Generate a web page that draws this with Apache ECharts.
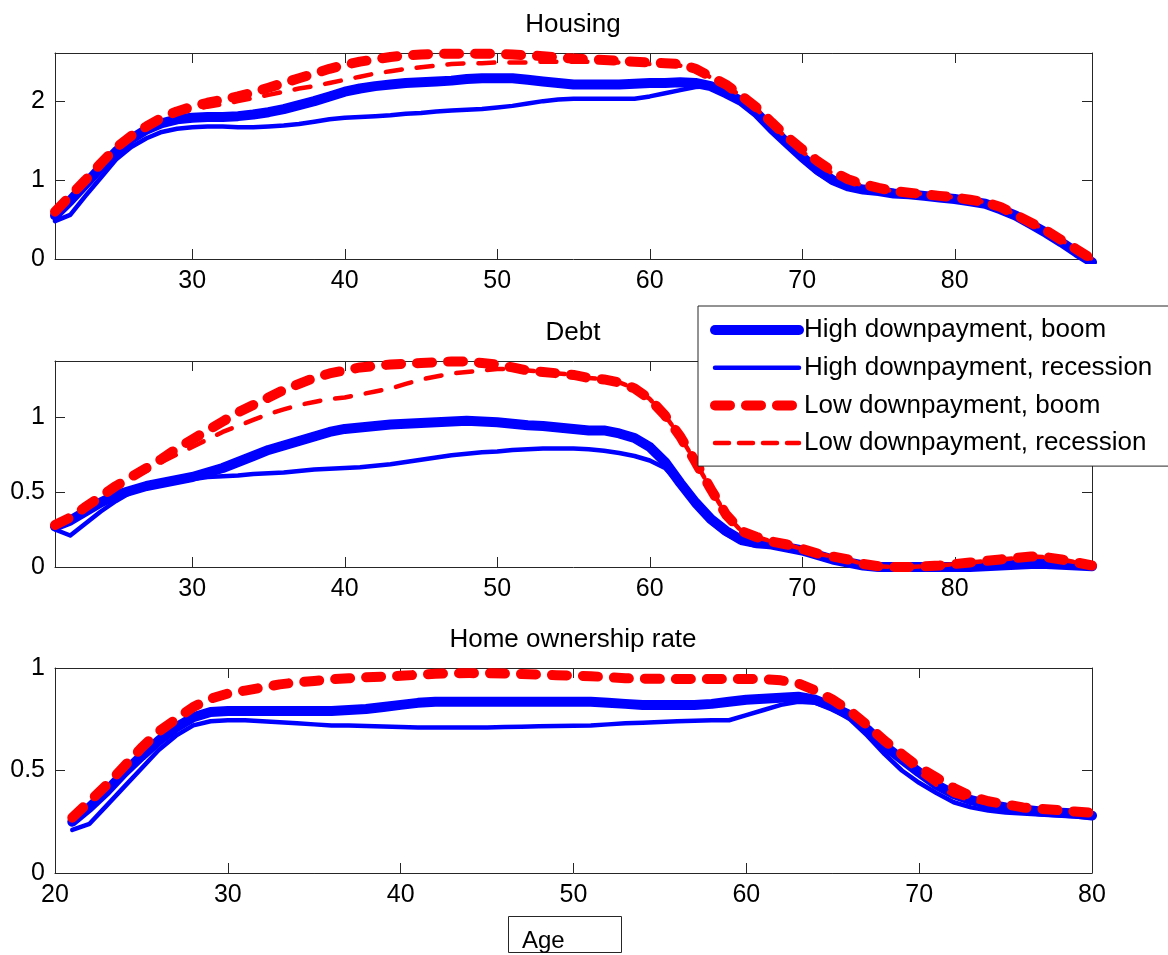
<!DOCTYPE html>
<html>
<head>
<meta charset="utf-8">
<script src="https://cdn.jsdelivr.net/npm/echarts@6.0.0/dist/echarts.min.js"></script>
<style>
  html, body { margin: 0; padding: 0; background: #fff; }
  #chart { width: 1168px; height: 955px; }
</style>
</head>
<body>
<div id="chart"></div>
<script>
// ---- data -------------------------------------------------------------
const seriesNames = [
  'High downpayment, boom',
  'High downpayment, recession',
  'Low downpayment, boom',
  'Low downpayment, recession'
];

const panelTitles = ['Housing', 'Debt', 'Home ownership rate'];
const xAxisTitle = 'Age';

const agesFull = [21,22,23,24,25,26,27,28,29,30,31,32,33,34,35,36,37,38,39,40,
  41,42,43,44,45,46,47,48,49,50,51,52,53,54,55,56,57,58,59,60,
  61,62,63,64,65,66,67,68,69,70,71,72,73,74,75,76,77,78,79,80,
  81,82,83,84,85,86,87,88,89];
const agesOwn = [21,22,23,24,25,26,27,28,29,30,31,32,33,34,35,36,37,38,39,40,
  41,42,43,44,45,46,47,48,49,50,51,52,53,54,55,56,57,58,59,60,
  61,62,63,64,65,66,67,68,69,70,71,72,73,74,75,76,77,78,79,80];

const housingHighBoom = [0.55,0.74,0.95,1.16,1.36,1.52,1.64,1.72,1.77,1.79,
  1.80,1.80,1.81,1.83,1.86,1.90,1.95,2.00,2.06,2.12,
  2.16,2.19,2.21,2.23,2.24,2.25,2.26,2.28,2.29,2.29,
  2.29,2.27,2.25,2.23,2.21,2.21,2.21,2.21,2.22,2.23,
  2.23,2.24,2.23,2.19,2.10,2.00,1.85,1.65,1.47,1.29,
  1.13,1.00,0.92,0.88,0.86,0.83,0.82,0.80,0.78,0.76,
  0.73,0.70,0.63,0.55,0.44,0.33,0.21,0.08,-0.04];
const housingHighRec = [0.48,0.56,0.80,1.03,1.26,1.42,1.53,1.61,1.65,1.67,
  1.68,1.68,1.67,1.67,1.68,1.69,1.71,1.74,1.77,1.79,
  1.80,1.81,1.82,1.84,1.85,1.87,1.88,1.89,1.90,1.92,
  1.94,1.97,2.00,2.02,2.03,2.03,2.03,2.03,2.03,2.06,
  2.10,2.14,2.18,2.19,2.08,1.97,1.81,1.62,1.44,1.26,
  1.09,0.97,0.90,0.86,0.84,0.82,0.81,0.79,0.77,0.75,
  0.72,0.69,0.62,0.54,0.43,0.32,0.20,0.07,-0.05];
const housingLowBoom = [0.60,0.80,1.00,1.21,1.41,1.56,1.68,1.79,1.87,1.93,
  1.98,2.02,2.06,2.11,2.17,2.23,2.29,2.35,2.41,2.46,
  2.50,2.53,2.56,2.58,2.59,2.60,2.60,2.60,2.60,2.60,
  2.59,2.58,2.57,2.55,2.54,2.53,2.52,2.51,2.50,2.49,
  2.48,2.47,2.41,2.31,2.21,2.07,1.92,1.73,1.55,1.39,
  1.24,1.11,1.01,0.95,0.90,0.86,0.84,0.82,0.80,0.78,
  0.75,0.72,0.66,0.56,0.46,0.36,0.24,0.12,0.00];
const housingLowRec = [0.60,0.80,1.00,1.21,1.41,1.56,1.68,1.78,1.85,1.89,
  1.93,1.96,2.00,2.04,2.08,2.12,2.16,2.19,2.23,2.27,
  2.31,2.35,2.38,2.41,2.43,2.45,2.47,2.48,2.48,2.49,
  2.49,2.49,2.50,2.50,2.50,2.50,2.50,2.49,2.48,2.47,
  2.46,2.45,2.40,2.30,2.20,2.06,1.90,1.71,1.53,1.36,
  1.21,1.08,0.99,0.93,0.89,0.86,0.84,0.82,0.80,0.78,
  0.75,0.72,0.66,0.56,0.46,0.36,0.24,0.12,0.00];

const debtHighBoom = [0.27,0.31,0.37,0.43,0.48,0.51,0.54,0.56,0.58,0.60,
  0.63,0.66,0.70,0.74,0.78,0.81,0.84,0.87,0.90,0.92,
  0.93,0.94,0.95,0.955,0.96,0.965,0.97,0.975,0.97,0.965,
  0.955,0.945,0.94,0.93,0.92,0.91,0.91,0.89,0.86,0.80,
  0.70,0.56,0.43,0.32,0.24,0.18,0.16,0.15,0.13,0.11,
  0.08,0.05,0.03,0.01,0.00,0.00,0.00,0.00,0.00,0.00,
  0.00,0.005,0.01,0.015,0.02,0.02,0.015,0.01,0.005];
const debtHighRec = [0.25,0.21,0.29,0.37,0.44,0.50,0.53,0.55,0.57,0.585,
  0.60,0.605,0.61,0.62,0.625,0.63,0.64,0.65,0.655,0.66,
  0.665,0.675,0.685,0.70,0.715,0.73,0.745,0.755,0.765,0.77,
  0.78,0.785,0.79,0.79,0.79,0.785,0.775,0.76,0.74,0.71,
  0.66,0.55,0.41,0.30,0.22,0.17,0.14,0.14,0.13,0.10,
  0.07,0.04,0.02,0.005,0.00,0.00,0.00,0.00,0.00,0.00,
  0.00,0.00,0.00,0.005,0.01,0.01,0.005,0.00,0.00];
const debtLowBoom = [0.28,0.33,0.40,0.47,0.54,0.60,0.66,0.72,0.79,0.85,
  0.91,0.97,1.03,1.08,1.13,1.18,1.22,1.26,1.29,1.31,
  1.33,1.34,1.35,1.355,1.36,1.365,1.37,1.37,1.36,1.35,
  1.33,1.31,1.30,1.29,1.28,1.26,1.25,1.23,1.19,1.12,
  1.01,0.87,0.70,0.52,0.35,0.24,0.20,0.17,0.15,0.12,
  0.09,0.07,0.05,0.02,0.005,0.00,0.00,0.005,0.01,0.02,
  0.03,0.04,0.05,0.06,0.07,0.065,0.05,0.03,0.01];
const debtLowRec = [0.28,0.32,0.39,0.46,0.53,0.59,0.64,0.70,0.75,0.80,
  0.85,0.90,0.94,0.98,1.02,1.05,1.08,1.10,1.12,1.13,
  1.15,1.17,1.19,1.22,1.25,1.27,1.29,1.30,1.31,1.32,
  1.32,1.31,1.30,1.29,1.28,1.26,1.25,1.23,1.19,1.12,
  1.01,0.87,0.70,0.52,0.35,0.24,0.20,0.17,0.15,0.12,
  0.09,0.07,0.05,0.02,0.005,0.00,0.00,0.005,0.01,0.02,
  0.03,0.04,0.05,0.06,0.07,0.065,0.05,0.03,0.01];

const ownHighBoom = [0.25,0.32,0.40,0.49,0.57,0.645,0.71,0.76,0.785,0.79,
  0.79,0.79,0.79,0.79,0.79,0.79,0.795,0.80,0.81,0.82,
  0.83,0.835,0.835,0.835,0.835,0.835,0.835,0.835,0.835,0.835,
  0.835,0.83,0.825,0.82,0.82,0.82,0.82,0.825,0.835,0.845,
  0.85,0.855,0.86,0.845,0.81,0.77,0.70,0.62,0.555,0.49,
  0.43,0.385,0.355,0.335,0.32,0.31,0.30,0.295,0.29,0.28];
const ownHighRec = [0.21,0.24,0.33,0.42,0.51,0.60,0.67,0.72,0.74,0.745,
  0.745,0.74,0.735,0.73,0.725,0.72,0.72,0.717,0.715,0.712,
  0.71,0.71,0.71,0.71,0.71,0.712,0.714,0.716,0.717,0.718,
  0.72,0.725,0.73,0.733,0.737,0.74,0.743,0.745,0.745,0.77,
  0.795,0.82,0.835,0.83,0.80,0.75,0.67,0.58,0.50,0.44,
  0.39,0.345,0.32,0.305,0.295,0.29,0.285,0.28,0.275,0.27];
const ownLowBoom = [0.27,0.35,0.43,0.52,0.61,0.69,0.75,0.81,0.85,0.875,
  0.89,0.905,0.92,0.93,0.937,0.945,0.95,0.955,0.958,0.962,
  0.967,0.972,0.974,0.975,0.975,0.973,0.971,0.968,0.965,0.963,
  0.96,0.955,0.95,0.948,0.947,0.946,0.946,0.946,0.946,0.946,
  0.946,0.94,0.925,0.89,0.845,0.79,0.72,0.645,0.58,0.515,
  0.465,0.415,0.375,0.35,0.335,0.32,0.313,0.307,0.30,0.294];
const ownLowRec = [0.27,0.35,0.43,0.52,0.61,0.69,0.75,0.81,0.85,0.875,
  0.89,0.905,0.92,0.93,0.937,0.945,0.95,0.955,0.958,0.962,
  0.967,0.972,0.974,0.975,0.975,0.973,0.971,0.968,0.965,0.963,
  0.96,0.955,0.95,0.948,0.947,0.946,0.946,0.946,0.946,0.946,
  0.946,0.94,0.925,0.89,0.845,0.79,0.72,0.645,0.56,0.49,
  0.43,0.38,0.355,0.34,0.33,0.32,0.313,0.307,0.30,0.294];

// tick positions per panel
const xTicksLife = [30, 40, 50, 60, 70, 80];
const xTicksOwn = [20, 30, 40, 50, 60, 70, 80];
const yTicksHousing = [0, 1, 2];
const yTicksDebt = [0, 0.5, 1];
const yTicksOwn = [0, 0.5, 1];

// ---- styling ----------------------------------------------------------
const FONT = '"Liberation Sans", Arial, Helvetica, sans-serif';
const AXIS_COLOR = '#262626';
const BLUE = '#0000ff';
const RED = '#ff0000';

const lineStyles = [
  { color: BLUE, width: 10, type: 'solid', cap: 'round', join: 'round' },
  { color: BLUE, width: 4.5, type: 'solid', cap: 'round', join: 'round' },
  { color: RED, width: 10, type: [15, 16], cap: 'round', join: 'round' },
  { color: RED, width: 4.5, type: [16, 15], cap: 'round', join: 'round' }
];
const legendLineStyles = [
  { color: BLUE, width: 10, type: 'solid', cap: 'round' },
  { color: BLUE, width: 4.5, type: 'solid', cap: 'round' },
  { color: RED, width: 10, type: [15, 16], cap: 'round' },
  { color: RED, width: 4.5, type: [14, 10], cap: 'round' }
];

const panels = [
  { top: 53, height: 206, xMin: 21, xMax: 89, yMax: 2.61, xTicks: xTicksLife, yTicks: yTicksHousing,
    ages: agesFull, values: [housingHighBoom, housingHighRec, housingLowBoom, housingLowRec] },
  { top: 361, height: 206, xMin: 21, xMax: 89, yMax: 1.373, xTicks: xTicksLife, yTicks: yTicksDebt,
    ages: agesFull, values: [debtHighBoom, debtHighRec, debtLowBoom, debtLowRec] },
  { top: 668, height: 205, xMin: 20, xMax: 80, yMax: 1, xTicks: xTicksOwn, yTicks: yTicksOwn,
    ages: agesOwn, values: [ownHighBoom, ownHighRec, ownLowBoom, ownLowRec] }
];

const grids = [], xAxes = [], yAxes = [], series = [];

panels.forEach((p, i) => {
  grids.push({ left: 55, top: p.top, width: 1037, height: p.height, outerBoundsMode: 'none' });
  const tickStyle = { show: true, inside: true, length: 10, lineStyle: { color: AXIS_COLOR, width: 1 } };
  const lineStyle = { show: true, onZero: false, lineStyle: { color: AXIS_COLOR, width: 1 } };
  xAxes.push({
    type: 'value', gridIndex: i, position: 'bottom', min: p.xMin, max: p.xMax,
    axisLine: lineStyle,
    axisTick: Object.assign({ customValues: p.xTicks }, tickStyle),
    axisLabel: { customValues: p.xTicks, margin: 10, fontSize: 25, color: '#000', fontFamily: FONT },
    splitLine: { show: false }
  });
  xAxes.push({
    type: 'value', gridIndex: i, position: 'top', min: p.xMin, max: p.xMax,
    axisLine: lineStyle,
    axisTick: Object.assign({ customValues: p.xTicks }, tickStyle),
    axisLabel: { show: false },
    splitLine: { show: false }
  });
  yAxes.push({
    type: 'value', gridIndex: i, position: 'left', min: 0, max: p.yMax,
    axisLine: lineStyle,
    axisTick: Object.assign({ customValues: p.yTicks }, tickStyle),
    axisLabel: { customValues: p.yTicks, margin: 10, fontSize: 25, color: '#000', fontFamily: FONT },
    splitLine: { show: false }
  });
  yAxes.push({
    type: 'value', gridIndex: i, position: 'right', min: 0, max: p.yMax,
    axisLine: lineStyle,
    axisTick: Object.assign({ customValues: p.yTicks }, tickStyle),
    axisLabel: { show: false },
    splitLine: { show: false }
  });
  seriesNames.forEach((name, k) => {
    series.push({
      name: name,
      type: 'line',
      xAxisIndex: 2 * i,
      yAxisIndex: 2 * i,
      data: p.ages.map((a, j) => [a, p.values[k][j]]),
      showSymbol: false,
      symbol: 'none',
      smooth: false,
      clip: true,
      lineStyle: lineStyles[k],
      emphasis: { disabled: true },
      animation: false
    });
  });
});

const titleGraphics = panelTitles.map((t, i) => ({
  type: 'text',
  x: 573,
  y: panels[i].top - 41.5,
  style: { text: t, font: '26px ' + FONT, fill: '#000', align: 'center', verticalAlign: 'top' }
}));

const chart = echarts.init(document.getElementById('chart'), null, { renderer: 'canvas' });
chart.setOption({
  backgroundColor: '#fff',
  animation: false,
  grid: grids,
  xAxis: xAxes,
  yAxis: yAxes,
  series: series,
  legend: {
    orient: 'vertical',
    left: 698,
    top: 306,
    backgroundColor: '#fff',
    borderColor: AXIS_COLOR,
    borderWidth: 1,
    borderRadius: 0,
    padding: [11, 60, 10, 12],
    itemGap: 11.7,
    itemWidth: 84,
    itemHeight: 12,
    selectedMode: false,
    textStyle: { fontSize: 26, lineHeight: 26, color: '#000', fontFamily: FONT },
    data: seriesNames.map((n, k) => ({ name: n, lineStyle: legendLineStyles[k], itemStyle: { opacity: 0 } }))
  },
  graphic: titleGraphics.concat([
    {
      type: 'rect',
      shape: { x: 508.5, y: 916.5, width: 113, height: 36 },
      style: { fill: '#fff', stroke: AXIS_COLOR, lineWidth: 1 }
    },
    {
      type: 'text',
      x: 522,
      y: 929.5,
      style: { text: xAxisTitle, font: '24px ' + FONT, fill: '#000', align: 'left', verticalAlign: 'top' }
    }
  ])
});
</script>
</body>
</html>
